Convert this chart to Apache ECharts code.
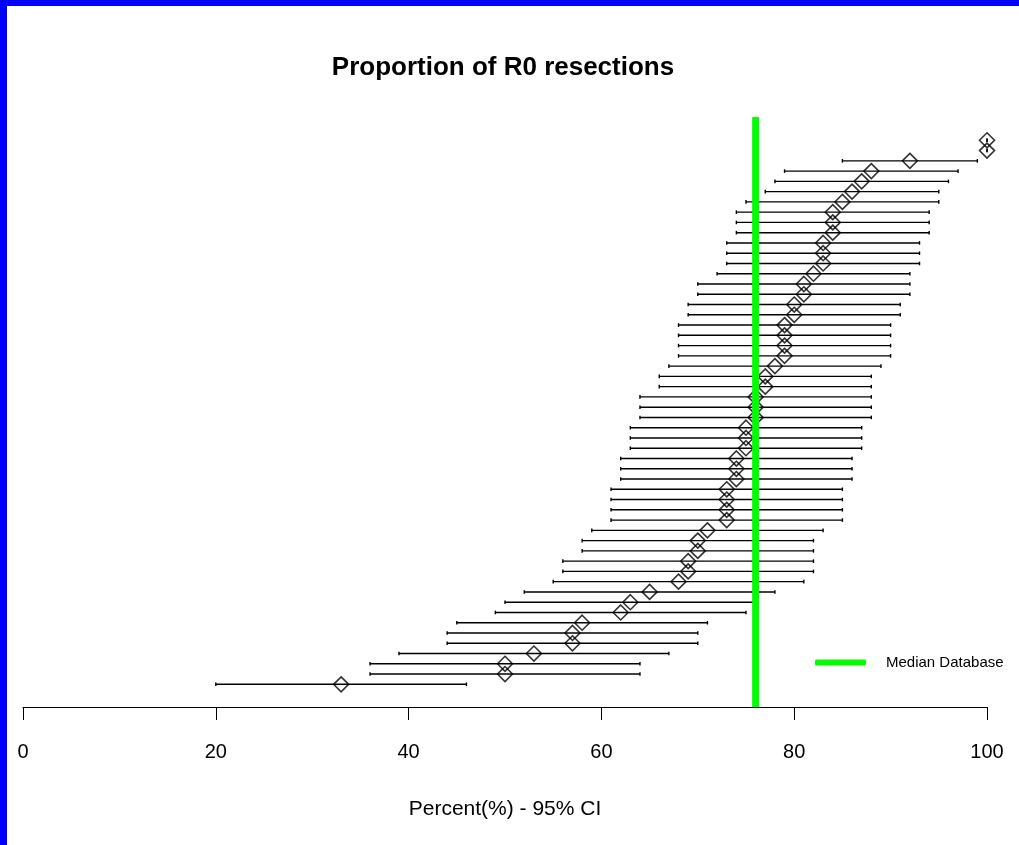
<!DOCTYPE html>
<html>
<head>
<meta charset="utf-8">
<script src="https://cdn.jsdelivr.net/npm/echarts@6/dist/echarts.min.js"></script>
<style>
html,body{margin:0;padding:0;background:#fff;}
#chart{width:1019px;height:845px;}
</style>
</head>
<body>
<div id="chart"></div>
<script>
// Rows listed from top to bottom
const estimates = [100,100,92,88,87,86,85,84,84,84,83,83,83,82,81,81,80,80,79,79,79,79,78,77,77,76,76,76,75,75,75,74,74,74,73,73,73,73,71,70,70,69,69,68,65,63,62,58,57,57,53,50,50,33];
const lowerCI = [100,100,85,79,78,77,75,74,74,74,73,73,73,72,70,70,69,69,68,68,68,68,67,66,66,64,64,64,63,63,63,62,62,62,61,61,61,61,59,58,58,56,56,55,52,50,49,45,44,44,39,36,36,20];
const upperCI = [100,100,99,97,96,95,95,94,94,94,93,93,93,92,92,92,91,91,90,90,90,90,89,88,88,88,88,88,87,87,87,86,86,86,85,85,85,85,83,82,82,82,82,81,78,76,75,71,70,70,67,64,64,46];
const medianValue = 76;
const xTicks = [0,20,40,60,80,100];

const n = estimates.length;
const pointData = estimates.map((v,i)=>[v, n-1-i]);
const ciData = estimates.map((v,i)=>[lowerCI[i], upperCI[i], n-1-i]);
const yMin = -2.21, yMax = n-1+2.27;

const chart = echarts.init(document.getElementById('chart'));
const FONT = 'Liberation Sans, Arial, sans-serif';
chart.setOption({
  animation:false,
  backgroundColor:'#fff',
  title:{text:'Proportion of R0 resections',left:498,top:50,textAlign:'center',
    textStyle:{fontFamily:FONT,fontWeight:'bold',fontSize:26,color:'#000'}},
  legend:{left:815,top:655,padding:0,itemWidth:51,itemHeight:6,
    data:[{name:'Median Database',icon:'roundRect'}],
    textStyle:{fontFamily:FONT,fontSize:15,color:'#000',padding:[0,0,0,15]}},
  grid:{left:23,right:32,top:117,bottom:138},
  xAxis:{type:'value',min:0,max:100,interval:20,
    axisLine:{show:true,onZero:false,lineStyle:{color:'#000',width:1}},
    axisTick:{show:true,length:13,lineStyle:{color:'#000',width:1}},
    axisLabel:{fontFamily:FONT,fontSize:20,color:'#000',margin:35,
      formatter:v=>xTicks.includes(v)?String(v):''},
    splitLine:{show:false},
    name:'Percent(%) - 95% CI',nameLocation:'middle',nameGap:92,
    nameTextStyle:{fontFamily:FONT,fontSize:21,color:'#000'}},
  yAxis:{type:'value',min:yMin,max:yMax,show:false,splitLine:{show:false}},
  graphic:[
    {type:'rect',shape:{x:0,y:0,width:7,height:845},style:{fill:'#0000FF'},z:100},
    {type:'rect',shape:{x:0,y:0,width:1019,height:6},style:{fill:'#0000FF'},z:100}
  ],
  series:[
    {type:'custom',name:'CI',data:ciData,z:2,
      renderItem:function(params,api){
        const y=api.value(2);
        const p1=api.coord([api.value(0),y]);
        const p2=api.coord([api.value(1),y]);
        const st={stroke:'#000',lineWidth:1.4};
        return {type:'group',children:[
          {type:'line',shape:{x1:p1[0],y1:p1[1],x2:p2[0],y2:p2[1]},style:st},
          {type:'line',shape:{x1:p1[0],y1:p1[1]-1.8,x2:p1[0],y2:p1[1]+1.8},style:st},
          {type:'line',shape:{x1:p2[0],y1:p2[1]-1.8,x2:p2[0],y2:p2[1]+1.8},style:st}
        ]};
      }},
    {type:'scatter',name:'Estimate',data:pointData,symbol:'diamond',symbolSize:[15,15],z:3,
      itemStyle:{color:'rgba(0,0,0,0)',borderColor:'#000',borderWidth:1.6}},
    {type:'line',name:'Median Database',data:[[medianValue,yMin],[medianValue,yMax]],
      showSymbol:false,symbol:'none',z:5,color:'#00FF00',
      lineStyle:{color:'#00FF00',width:7}}
  ]
});
</script>
</body>
</html>
